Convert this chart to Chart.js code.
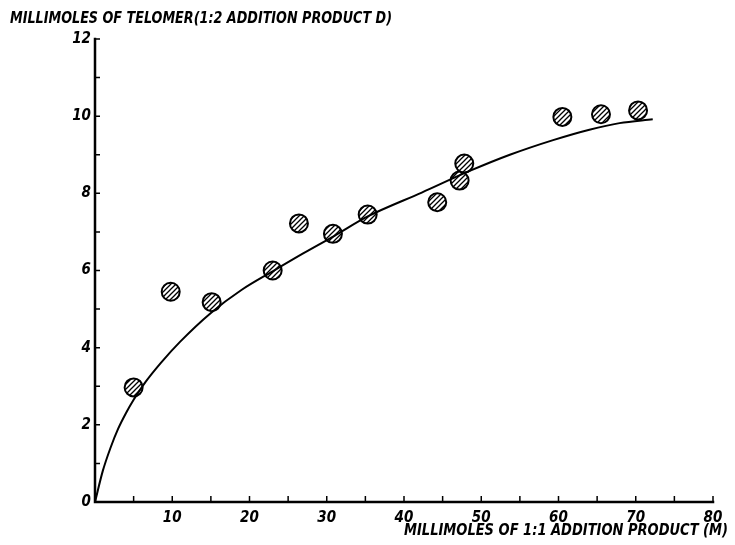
<!DOCTYPE html>
<html>
<head>
<meta charset="utf-8">
<script src="https://cdn.jsdelivr.net/npm/chart.js@4/dist/chart.umd.min.js"></script>
<style>
  html, body { margin: 0; padding: 0; background: #fff; }
  #wrap { width: 735px; height: 545px; }
</style>
</head>
<body>
<div id="wrap"><canvas id="telomerChart" width="735" height="545"></canvas></div>
<script>
// measured points (1:1 product vs telomer)
var obsX = [5.0, 9.8, 15.1, 23.0, 26.4, 30.8, 35.3, 44.3, 47.2, 47.8, 60.5, 65.5, 70.3];
var obsY = [2.97, 5.45, 5.18, 6.0, 7.22, 6.95, 7.45, 7.77, 8.33, 8.77, 9.98, 10.05, 10.15];

// hand-drawn curve
var curveX = [0, 1, 2, 3, 4, 5, 6.5, 8.5, 11, 15, 19, 23, 27, 31, 35.3, 42.3, 48.5, 53.7, 59.3, 64, 67.9, 72.2];
var curveY = [0, 0.8, 1.4, 1.9, 2.3, 2.65, 3.1, 3.6, 4.15, 4.9, 5.5, 5.98, 6.45, 6.9, 7.4, 8.02, 8.58, 9.0, 9.38, 9.65, 9.82, 9.92];

var xMajor = [10, 20, 30, 40, 50, 60, 70, 80];
var xMinor = [5, 15, 25, 35, 45, 55, 65, 75];
var yMajor = [0, 2, 4, 6, 8, 10, 12];
var yMinor = [1, 3, 5, 7, 9, 11];

var yTitle = 'MILLIMOLES OF TELOMER(1:2 ADDITION PRODUCT D)';
var xTitle = 'MILLIMOLES OF 1:1 ADDITION PRODUCT (M)';

var FONT = '"DejaVu Sans Condensed", "Liberation Sans Narrow", "Liberation Sans", sans-serif';

function hatch() {
  var c = document.createElement('canvas');
  c.width = 5; c.height = 5;
  var g = c.getContext('2d');
  g.fillStyle = '#fff';
  g.fillRect(0, 0, 5, 5);
  g.strokeStyle = '#000';
  g.lineWidth = 1.3;
  g.beginPath();
  g.moveTo(-1, 6); g.lineTo(6, -1);
  g.moveTo(-1, 1); g.lineTo(1, -1);
  g.moveTo(4, 6); g.lineTo(6, 4);
  g.stroke();
  return g.createPattern(c, 'repeat');
}

var axesPlugin = {
  id: 'axesPlugin',
  afterDatasetsDraw: function(chart) {
    var ctx = chart.ctx, xs = chart.scales.x, ys = chart.scales.y;
    var x0 = xs.getPixelForValue(0), y0 = ys.getPixelForValue(0);
    var xEnd = xs.getPixelForValue(80), yTop = ys.getPixelForValue(12);
    ctx.save();
    ctx.strokeStyle = '#000';
    ctx.lineCap = 'square';
    ctx.lineWidth = 2.5;
    ctx.beginPath();
    ctx.moveTo(x0, yTop); ctx.lineTo(x0, y0); ctx.lineTo(xEnd, y0);
    ctx.stroke();
    ctx.lineWidth = 1.5;
    ctx.lineCap = 'butt';
    ctx.beginPath();
    xMajor.concat(xMinor).forEach(function(v) {
      var p = xs.getPixelForValue(v);
      ctx.moveTo(p, y0); ctx.lineTo(p, y0 - 6);
    });
    yMajor.concat(yMinor).forEach(function(v) {
      if (v === 0) return;
      var p = ys.getPixelForValue(v);
      ctx.moveTo(x0, p); ctx.lineTo(x0 + 5, p);
    });
    ctx.stroke();

    ctx.fillStyle = '#000';
    ctx.font = 'italic bold 16px ' + FONT;
    ctx.textBaseline = 'middle';
    ctx.textAlign = 'left';
    ctx.fillText(yTitle, 10, 19, 382);
    ctx.fillText(xTitle, 404, 531, 324);
    ctx.restore();
  }
};

new Chart(document.getElementById('telomerChart'), {
  type: 'scatter',
  data: {
    datasets: [{
      type: 'line',
      data: curveX.map(function(x, i) { return { x: x, y: curveY[i] }; }),
      borderColor: '#000',
      borderWidth: 2,
      pointRadius: 0,
      fill: false,
      cubicInterpolationMode: 'monotone'
    }, {
      data: obsX.map(function(x, i) { return { x: x, y: obsY[i] }; }),
      backgroundColor: hatch(),
      borderColor: '#000',
      borderWidth: 2,
      pointRadius: 9,
      pointHoverRadius: 9
    }]
  },
  options: {
    responsive: false,
    animation: false,
    layout: { padding: { left: 0, top: 39, right: 22, bottom: 0 } },
    plugins: { legend: { display: false }, tooltip: { enabled: false } },
    scales: {
      x: {
        type: 'linear', min: 0, max: 80,
        afterFit: function(s) { s.height = 43; },
        afterBuildTicks: function(s) { s.ticks = xMajor.map(function(v) { return { value: v }; }); },
        grid: { display: false, drawTicks: false },
        border: { display: false },
        ticks: {
          padding: 7, color: '#000',
          font: { family: FONT, size: 15, style: 'italic', weight: 'bold' }
        }
      },
      y: {
        type: 'linear', min: 0, max: 12,
        afterFit: function(s) { s.width = 95; },
        afterBuildTicks: function(s) { s.ticks = yMajor.map(function(v) { return { value: v }; }); },
        grid: { display: false, drawTicks: false },
        border: { display: false },
        ticks: {
          padding: 4, color: '#000',
          font: { family: FONT, size: 15, style: 'italic', weight: 'bold' }
        }
      }
    }
  },
  plugins: [axesPlugin]
});
</script>
</body>
</html>
